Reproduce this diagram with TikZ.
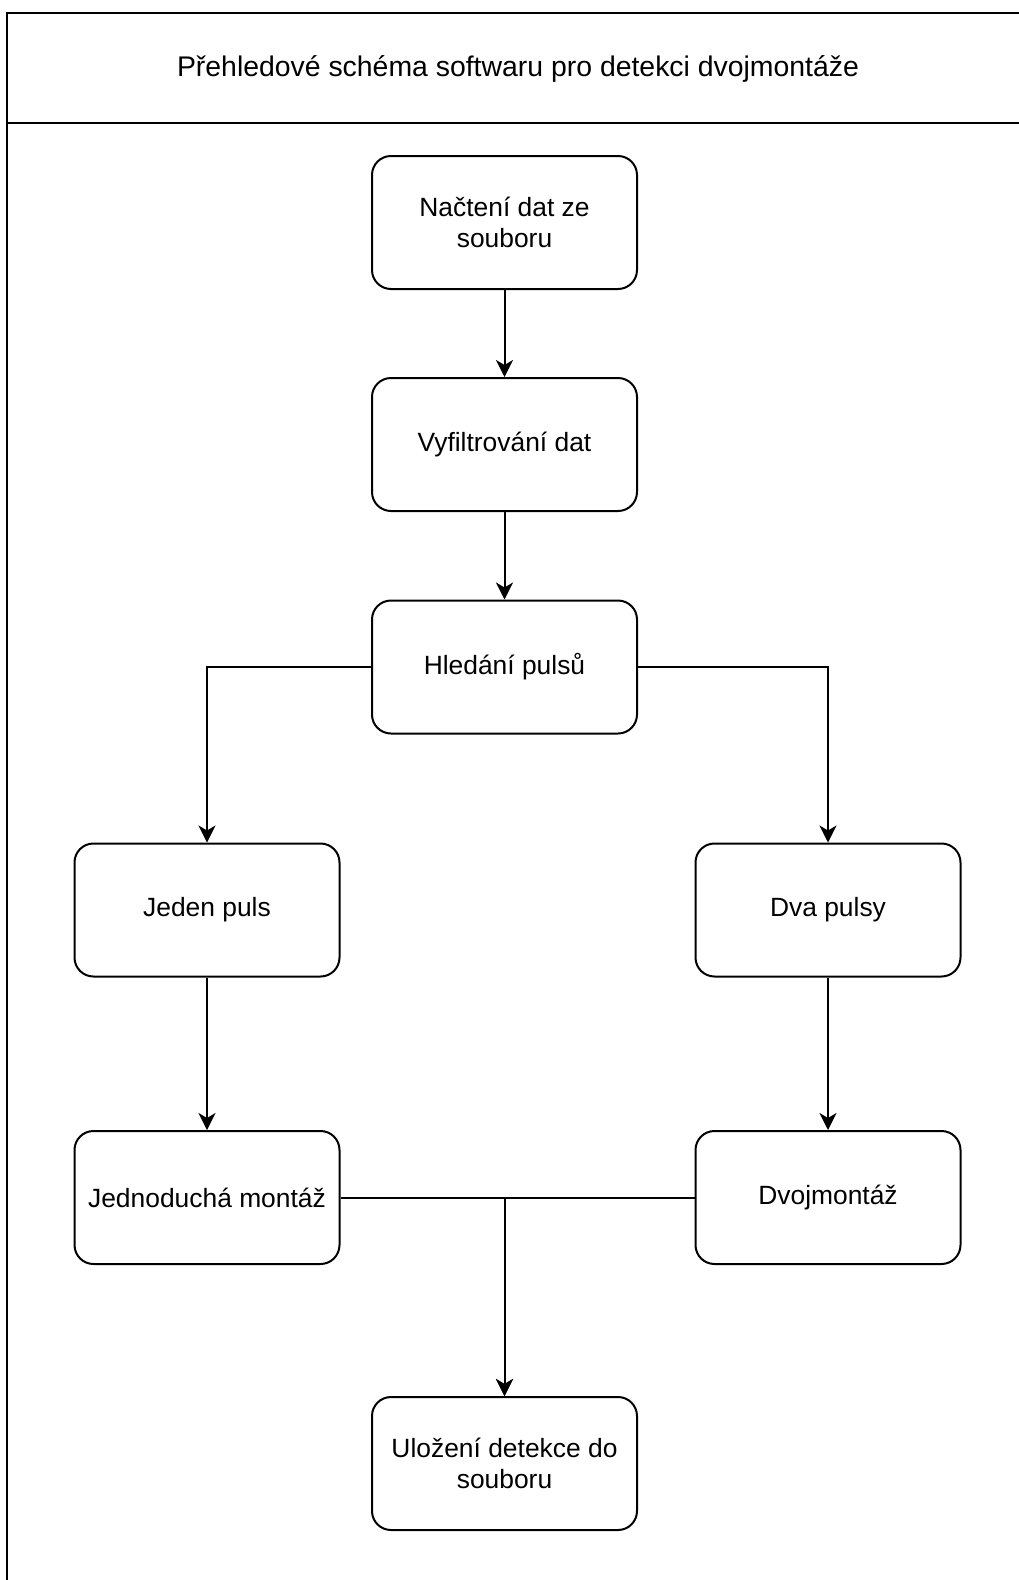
\documentclass[tikz,border=0pt]{standalone}
\usepackage{fontspec}
\setmainfont{Liberation Sans}
\usetikzlibrary{arrows.meta}
\begin{document}
\begin{tikzpicture}[x=1pt,y=-1pt,
  stepbox/.style={draw=black, line width=2pt, rounded corners=19pt,
    minimum width=265pt, minimum height=133pt, align=center,
    font=\fontsize{26.4}{31}\selectfont, fill=white},
  arr/.style={draw=black, line width=2pt, -{Stealth[length=17pt,width=17pt,inset=5pt]}},
  frame/.style={draw=black, line width=2pt}]
\useasboundingbox (0,0) rectangle (1019,1580);
\clip (0,0) rectangle (1019,1580);
\fill[white] (0,0) rectangle (1019,1580);
% outer swimlane frame
\draw[frame] (7,1620) -- (7,13) -- (1040,13);
\draw[frame] (7,123) -- (1040,123);
\node[font=\fontsize{28.4}{33}\selectfont] (title) at (518,69) {Přehledové schéma softwaru pro detekci dvojmontáže};
% boxes
\node[stepbox] (n1) at (504.5,222.5) {Načtení dat ze\\souboru};
\node[stepbox] (n2) at (504.5,444.5) {Vyfiltrování dat};
\node[stepbox] (n3) at (504.5,667) {Hledání pulsů};
\node[stepbox] (jp) at (207,910) {Jeden puls};
\node[stepbox] (dp) at (828,910) {Dva pulsy};
\node[stepbox] (jm) at (207,1197.5) {Jednoduchá montáž};
\node[stepbox] (dm) at (828,1197.5) {Dvojmontáž};
\node[stepbox] (ul) at (504.5,1463.5) {Uložení detekce do\\souboru};
% connectors
\draw[arr] (n1) -- (n2);
\draw[arr] (n2) -- (n3);
\draw[arr] (n3.west) -| (jp.north);
\draw[arr] (n3.east) -| (dp.north);
\draw[arr] (jp) -- (jm);
\draw[arr] (dp) -- (dm);
\draw[arr] (jm.east) -| (ul.north);
\draw[arr] (dm.west) -| (ul.north);
\end{tikzpicture}
\end{document}
